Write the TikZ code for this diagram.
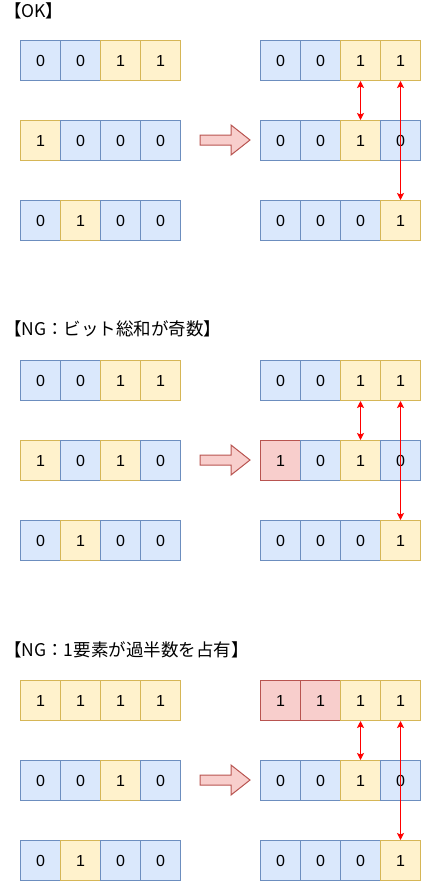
\documentclass[tikz,border=0pt]{standalone}
\usepackage{fontspec}
\setmainfont{Liberation Sans}
\newfontfamily\jp{Noto Sans CJK JP}
\usetikzlibrary{arrows.meta}
\definecolor{bfill}{HTML}{DAE8FC}\definecolor{bline}{HTML}{6C8EBF}
\definecolor{yfill}{HTML}{FFF2CC}\definecolor{yline}{HTML}{D6B656}
\definecolor{rfill}{HTML}{F8CECC}\definecolor{rline}{HTML}{B85450}
\definecolor{redline}{HTML}{FF0000}
\tikzset{
  cell/.style={draw,line width=1pt,minimum width=40pt,minimum height=40pt,inner sep=0pt,
    anchor=north west,font=\fontsize{16}{19}\selectfont},
  cb/.style={fill=bfill,draw=bline},
  cy/.style={fill=yfill,draw=yline},
  cr/.style={fill=rfill,draw=rline},
  title/.style={anchor=west,inner sep=0pt,font=\jp\fontsize{17.5}{20}\selectfont},
  link/.style={draw=redline,line width=1pt,{Stealth[length=7pt,width=7pt,inset=1.5pt]}-{Stealth[length=7pt,width=7pt,inset=1.5pt]}},
  bigarrow/.style={fill=rfill,draw=rline,line width=1pt,line join=miter}
}
\newcommand\bitrow[4]{%
  \foreach [count=\i] \t/\d in {#4} {
    \node[cell,c\t] (#1c\i) at ({#2+40*(\i-1)},{#3}) {\d};
  }}
\begin{document}
\begin{tikzpicture}[x=1pt,y=-1pt]
\useasboundingbox (0,0) rectangle (421,881);
% ---------- section 1
\node[title] (t1) at (4,11) {【OK】};
\bitrow{aL1}{20}{40}{b/0,b/0,y/1,y/1}
\bitrow{aL2}{20}{120}{y/1,b/0,b/0,b/0}
\bitrow{aL3}{20}{200}{b/0,y/1,b/0,b/0}
\bitrow{aR1}{260}{40}{b/0,b/0,y/1,y/1}
\bitrow{aR2}{260}{120}{b/0,b/0,y/1,b/0}
\bitrow{aR3}{260}{200}{b/0,b/0,b/0,y/1}
\coordinate (a0) at (200,140);
\draw[bigarrow] (a0) ++(0,-5) -- ++(31,0) -- ++(0,-10) -- ++(19,15) -- ++(-19,15) -- ++(0,-10) -- ++(-31,0) -- cycle;
\draw[link] (aR1c3.south) -- (aR2c3.north);
\draw[link] (aR1c4.south) -- (aR3c4.north);
% ---------- section 2
\node[title] (t2) at (4,329) {【NG：ビット総和が奇数】};
\bitrow{bL1}{20}{360}{b/0,b/0,y/1,y/1}
\bitrow{bL2}{20}{440}{y/1,b/0,y/1,b/0}
\bitrow{bL3}{20}{520}{b/0,y/1,b/0,b/0}
\bitrow{bR1}{260}{360}{b/0,b/0,y/1,y/1}
\bitrow{bR2}{260}{440}{r/1,b/0,y/1,b/0}
\bitrow{bR3}{260}{520}{b/0,b/0,b/0,y/1}
\coordinate (b0) at (200,460);
\draw[bigarrow] (b0) ++(0,-5) -- ++(31,0) -- ++(0,-10) -- ++(19,15) -- ++(-19,15) -- ++(0,-10) -- ++(-31,0) -- cycle;
\draw[link] (bR1c3.south) -- (bR2c3.north);
\draw[link] (bR1c4.south) -- (bR3c4.north);
% ---------- section 3
\node[title] (t3) at (4,649.5) {【NG：1要素が過半数を占有】};
\bitrow{cL1}{20}{680}{y/1,y/1,y/1,y/1}
\bitrow{cL2}{20}{760}{b/0,b/0,y/1,b/0}
\bitrow{cL3}{20}{840}{b/0,y/1,b/0,b/0}
\bitrow{cR1}{260}{680}{r/1,r/1,y/1,y/1}
\bitrow{cR2}{260}{760}{b/0,b/0,y/1,b/0}
\bitrow{cR3}{260}{840}{b/0,b/0,b/0,y/1}
\coordinate (c0) at (200,780);
\draw[bigarrow] (c0) ++(0,-5) -- ++(31,0) -- ++(0,-10) -- ++(19,15) -- ++(-19,15) -- ++(0,-10) -- ++(-31,0) -- cycle;
\draw[link] (cR1c3.south) -- (cR2c3.north);
\draw[link] (cR1c4.south) -- (cR3c4.north);
\end{tikzpicture}
\end{document}
